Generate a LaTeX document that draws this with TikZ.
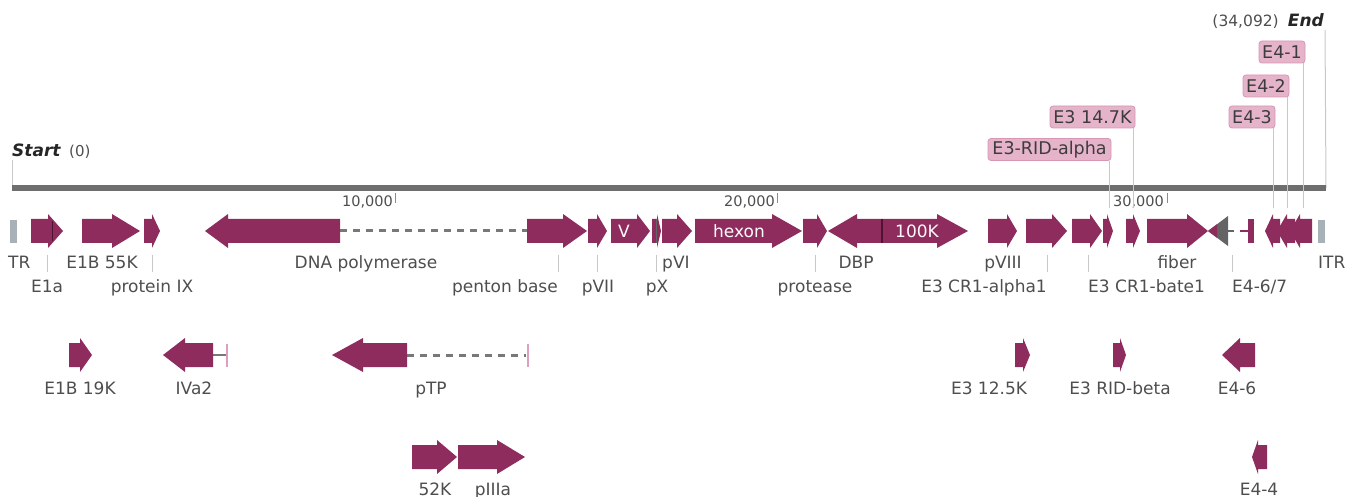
\documentclass[tikz,border=0pt]{standalone}
\usepackage{fontspec}
\setmainfont{DejaVu Sans}
\definecolor{genefill}{RGB}{141,44,93}
\definecolor{genedark}{RGB}{80,20,50}
\definecolor{labelgray}{RGB}{78,78,78}
\definecolor{tickgray}{RGB}{200,200,200}
\definecolor{rulergray}{RGB}{110,110,110}
\definecolor{dashgray}{RGB}{120,120,120}
\definecolor{endbar}{RGB}{168,176,184}
\definecolor{tagpink}{RGB}{230,180,202}
\definecolor{tagborder}{RGB}{214,150,180}
\definecolor{tagtext}{RGB}{60,60,60}
\definecolor{pinkbar}{RGB}{220,160,190}
\definecolor{graygene}{RGB}{100,100,100}
\newcommand\gene[4]{\fill[genefill] (#1,#4-12) -- (#2,#4-12) -- (#2,#4-17) -- (#3,#4) -- (#2,#4+17) -- (#2,#4+12) -- (#1,#4+12) -- cycle;}
\begin{document}
\begin{tikzpicture}[x=1pt,y=-1pt,
  lbl/.style={text=labelgray,font=\fontsize{17}{20}\selectfont,inner sep=0pt,anchor=base},
  lblw/.style={lbl,anchor=base west},
  lble/.style={lbl,anchor=base east},
  inlbl/.style={text=white!92!pink,font=\fontsize{17}{20}\selectfont,inner sep=0pt},
  scalelbl/.style={text=labelgray,font=\fontsize{14.5}{17}\selectfont,inner sep=0pt,anchor=base east},
  ticklbl/.style={draw=tickgray,line width=1pt},
  tagline/.style={draw=tickgray,line width=1pt},
  tag/.style={fill=tagpink,draw=tagborder,line width=0.8pt,rounded corners=3pt,inner sep=0pt,
    minimum height=22pt,text=tagtext,font=\fontsize{17.5}{20}\selectfont},
  gap/.style={draw=dashgray,line width=3pt,dash pattern=on 7pt off 6pt},
  endbox/.style={fill=endbar}
]
\useasboundingbox (0,0) rectangle (1347,497);

% ruler
\coordinate (rs) at (12,188);
\coordinate (re) at (1326,188);
\draw[tagline] (12,160) -- (rs);
\draw[tagline] (1325,30) -- (re);
\draw[rulergray,line width=6pt] (rs) -- (re);
\node[font=\fontsize{17}{20}\selectfont\bfseries\itshape,text=black!85,inner sep=0pt,anchor=base west] (start) at (12,157) {Start};
\node[lblw,font=\fontsize{15}{18}\selectfont] (startnum) at (69,157) {(0)};
\node[font=\fontsize{17}{20}\selectfont\bfseries\itshape,text=black!85,inner sep=0pt,anchor=base east] (end) at (1324,27) {End};
\node[scalelbl,font=\fontsize{15.5}{18}\selectfont] (endnum) at (1279,27) {(34,092)};

% scale
\node[scalelbl] (s10) at (393,207) {10,000};
\node[scalelbl] (s20) at (775,207) {20,000};
\node[scalelbl] (s30) at (1164,207) {30,000};
\draw[tickgray!70!black,line width=0.8pt] (395,193) -- (395,203);
\draw[tickgray!70!black,line width=0.8pt] (777,193) -- (777,203);
\draw[tickgray!70!black,line width=0.8pt] (1167,193) -- (1167,203);

% tags
\node[tag,minimum width=123pt] (tRID) at (1049.5,149.5) {E3-RID-alpha};
\node[tag,minimum width=85pt] (t147) at (1092.5,117) {E3 14.7K};
\node[tag,minimum width=46pt] (t43) at (1252,117) {E4-3};
\node[tag,minimum width=46pt] (t42) at (1266,86) {E4-2};
\node[tag,minimum width=46pt] (t41) at (1282,52) {E4-1};
\coordinate (fRID) at (1109,208);
\coordinate (f147) at (1133,208);
\coordinate (f43) at (1273,208);
\coordinate (f42) at (1287,208);
\coordinate (f41) at (1303,208);
\draw[tagline] (tRID.south -| fRID) -- (fRID);
\draw[tagline] (t147.south -| f147) -- (f147);
\draw[tagline] (t43.south -| f43) -- (f43);
\draw[tagline] (t42.south -| f42) -- (f42);
\draw[tagline] (t41.south -| f41) -- (f41);

% main track
\fill[endbox] (10,220) rectangle (17,243);
\fill[endbox] (1318,220) rectangle (1325,243);
\gene{31}{48}{63}{231}
\draw[genedark,line width=1pt] (52,221) -- (52,241);
\gene{82}{112}{140}{231}
\gene{144}{152}{160}{231}
\draw[gap] (340,231) -- (527,231);
\gene{340}{228}{205}{231}
\gene{527}{563}{587}{231}
\gene{588}{597}{607}{231}
\gene{611}{637}{650}{231}
\gene{652}{657}{661}{231}
\draw[graygene,line width=0.8pt] (656,219) -- (656,243);
\gene{662}{677}{692}{231}
\gene{695}{772}{802}{231}
\gene{803}{817}{827}{231}
\gene{882}{857}{828}{231}
\gene{882}{937}{968}{231}
\draw[genedark,line width=1.2pt] (882,219) -- (882,243);
\gene{988}{1007}{1017}{231}
\gene{1026}{1052}{1067}{231}
\gene{1072}{1090}{1102}{231}
\gene{1103}{1107}{1113}{231}
\gene{1126}{1133}{1140}{231}
\gene{1147}{1187}{1208}{231}
\draw[graygene,line width=1.5pt] (1226,231) -- (1234,231);
\fill[graygene] (1228,216) -- (1208,231) -- (1228,246) -- cycle;
\fill[genefill] (1217,224.2) -- (1208,231) -- (1217,237.8) -- cycle;
\draw[genefill,line width=1.5pt] (1240,231) -- (1249,231);
\fill[genefill] (1248,219) rectangle (1254,243);
\gene{1312}{1300}{1290}{231}
\gene{1295}{1287}{1277}{231}
\gene{1280}{1273}{1265}{231}

\node[inlbl] (gV) at (624,231) {V};
\node[inlbl] (ghex) at (739,231) {hexon};
\node[inlbl] (g100) at (917,231) {100K};

% labels row a
\node[lblw] (lTR) at (8,269) {TR};
\node[lbl] (l55) at (102,269) {E1B 55K};
\node[lbl] (lpol) at (366,269) {DNA polymerase};
\node[lblw] (lpVI) at (662,269) {pVI};
\node[lbl] (lDBP) at (856,269) {DBP};
\node[lbl] (lpVIII) at (1003,269) {pVIII};
\node[lbl] (lfib) at (1177,269) {fiber};
\node[lblw] (lITR) at (1318,269) {ITR};
% labels row b
\node[lbl] (lE1a) at (47,292) {E1a};
\node[lbl] (lIX) at (152,292) {protein IX};
\node[lble] (lpen) at (558,292) {penton base};
\node[lbl] (lpVII) at (598,292) {pVII};
\node[lbl] (lpX) at (657,292) {pX};
\node[lbl] (lpro) at (815,292) {protease};
\node[lble] (lCRa) at (1047,292) {E3 CR1-alpha1};
\node[lblw] (lCRb) at (1088,292) {E3 CR1-bate1};
\node[lblw] (lE467) at (1232,292) {E4-6/7};
\foreach \x/\n in {47/lE1a,152/lIX,558/lpen,597/lpVII,656/lpX,815/lpro,1047/lCRa,1088/lCRb,1232/lE467}
  \draw[ticklbl] (\x,255) -- (\x,272);

% row 2
\gene{69}{80}{92}{355}
\draw[dashgray,line width=1.5pt] (213,355) -- (226,355);
\draw[pinkbar,line width=1.5pt] (227,344) -- (227,367);
\gene{213}{185}{163}{355}
\draw[gap] (407,355) -- (526,355);
\draw[pinkbar,line width=1.5pt] (528,344) -- (528,367);
\gene{407}{363}{332}{355}
\gene{1015}{1023}{1030}{355}
\gene{1113}{1120}{1126}{355}
\gene{1255}{1240}{1222}{355}
\node[lbl] (l19) at (80,394) {E1B 19K};
\node[lbl] (lIVa2) at (194,394) {IVa2};
\node[lbl] (lpTP) at (431,394) {pTP};
\node[lbl] (l125) at (989,394) {E3 12.5K};
\node[lbl] (lRIDb) at (1120,394) {E3 RID-beta};
\node[lbl] (lE46) at (1237,394) {E4-6};

% row 3
\gene{412}{437}{457}{457}
\gene{458}{497}{525}{457}
\gene{1267}{1258}{1252}{457}
\node[lbl] (l52) at (435,495) {52K};
\node[lbl] (lIIIa) at (493,495) {pIIIa};
\node[lbl] (lE44) at (1259,495) {E4-4};
\end{tikzpicture}
\end{document}
